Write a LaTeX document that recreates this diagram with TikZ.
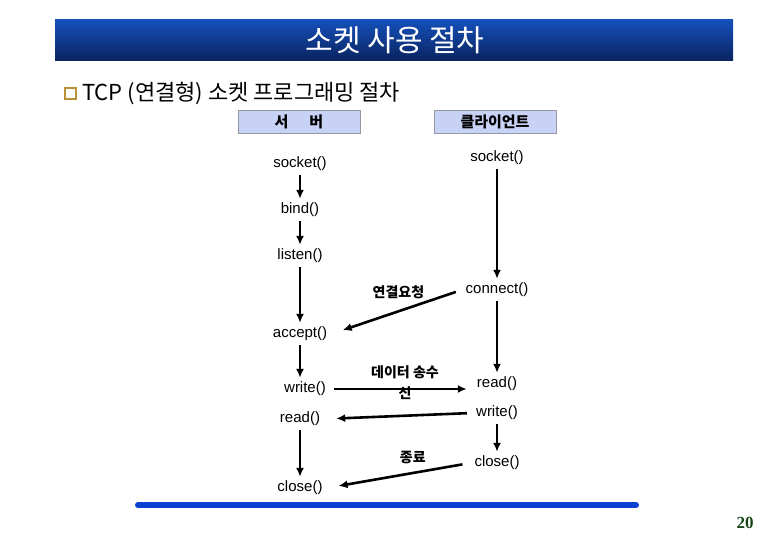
\documentclass[tikz,border=0pt]{standalone}
\usepackage{fontspec}
\setmainfont{Liberation Sans}
\newfontfamily\krfont{Noto Sans CJK KR}
\newfontfamily\numfont{Liberation Serif}
\usepackage{tikz}
\usetikzlibrary{arrows.meta}

\definecolor{titletop}{RGB}{20,80,185}
\definecolor{titlemid}{RGB}{15,85,200}
\definecolor{titlebot}{RGB}{10,35,95}
\definecolor{boxfill}{RGB}{200,210,245}
\definecolor{boxline}{RGB}{150,150,165}
\definecolor{barblue}{RGB}{10,65,210}
\definecolor{bulletgold}{RGB}{185,145,55}
\definecolor{pagegreen}{RGB}{25,70,25}

\tikzset{
  call/.style={font=\fontsize{15}{17}\selectfont,inner sep=4pt},
  rolebox/.style={draw=boxline,fill=boxfill,minimum width=122pt,minimum height=23pt,
    font=\krfont\bfseries\fontsize{15}{17}\selectfont},
  arr/.style={line width=2.6pt,-{Latex[length=9pt,width=8pt]}},
  msg/.style={font=\krfont\bfseries\fontsize{14}{13}\selectfont,align=center,inner sep=1pt}
}

\begin{document}
\begin{tikzpicture}[x=1pt,y=-1pt]
  \useasboundingbox (0,0) rectangle (780,540);
  % title bar
  \shade[top color=titletop,middle color=titlemid,bottom color=titlebot] (55,20) rectangle (733,61);
  \node[text=white,font=\krfont\fontsize{30}{32}\selectfont] (title) at (395,40) {소켓 사용 절차};
  % heading line
  \draw[bulletgold,line width=1.4pt,fill=white] (65,88) rectangle (76,99);
  \node[right,font=\krfont\fontsize{22}{24}\selectfont,inner sep=0pt] (head) at (82,93) {TCP (연결형) 소켓 프로그래밍 절차};
  \node[rolebox] (server) at (299,121.5) {서\hspace{1.4em}버};
  \node[rolebox] (client) at (495,121.5) {클라이언트};

  % server side
  \node[call] (ssock) at (300,164) {socket()};
  \node[call] (sbind) at (300,210) {bind()};
  \node[call] (slist) at (300,256) {listen()};
  \node[call] (sacc) at (300,334) {accept()};
  \node[call] (swrite) at (305,389) {write()};
  \node[call] (sread) at (300,419) {read()};
  \node[call] (sclose) at (300,488) {close()};
  % client side
  \node[call] (csock) at (497,158) {socket()};
  \node[call] (cconn) at (497,290) {connect()};
  \node[call] (cread) at (497,384) {read()};
  \node[call] (cwrite) at (497,413) {write()};
  \node[call] (cclose) at (497,463) {close()};

  \draw[arr] (ssock) -- (sbind);
  \draw[arr] (sbind) -- (slist);
  \draw[arr] (slist) -- (sacc);
  \draw[arr] (sacc.south) -- (sacc.south |- swrite.north);
  \draw[arr] (sread.south) -- (sread.south |- sclose.north);
  \draw[arr] (csock) -- (cconn);
  \draw[arr] (cconn) -- (cread);
  \draw[arr] (cwrite) -- (cclose);

  % messages
  \draw[arr,shorten <=6pt,shorten >=12pt] (cconn.west) -- (sacc.east)
    node[msg,pos=0.3,above=2pt,xshift=-24pt] (req) {연결요청};
  \draw[arr,shorten <=4pt,shorten >=6pt] (swrite.east) -- (cread.west |- swrite.east);
  \node[msg,font=\krfont\bfseries\fontsize{14}{21}\selectfont] (data) at (405,383) {데이터 송수\\신};
  \draw[arr,shorten <=5pt,shorten >=12pt] (cwrite.west) -- (sread.east);
  \draw[arr,shorten <=8pt,shorten >=12pt] (cclose.west) -- (sclose.east)
    node[msg,pos=0.4,above=7pt] (fin) {종료};

  % footer
  \draw[barblue,line width=6pt,line cap=round] (138,505) -- (636,505);
  \node[text=pagegreen,font=\numfont\bfseries\fontsize{17}{18}\selectfont] (page) at (745,523) {20};
\end{tikzpicture}
\end{document}
